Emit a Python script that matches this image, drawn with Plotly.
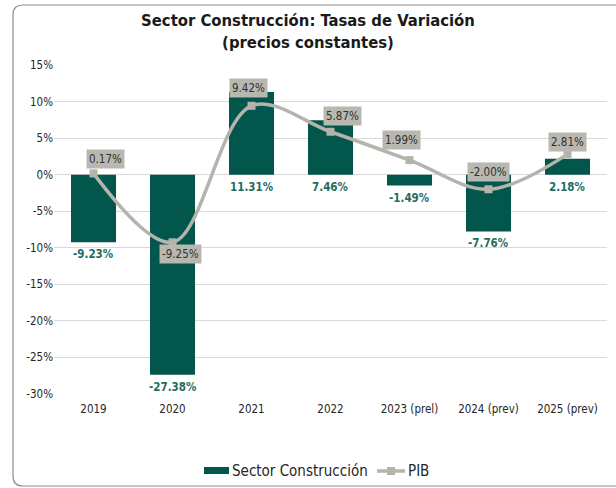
import plotly.graph_objects as go

categories = ["2019", "2020", "2021", "2022", "2023 (prel)", "2024 (prev)", "2025 (prev)"]
construccion = [-9.23, -27.38, 11.31, 7.46, -1.49, -7.76, 2.18]
pib = [0.17, -9.25, 9.42, 5.87, 1.99, -2.00, 2.81]
series_names = ["Sector Construcción", "PIB"]
y_ticks = [15, 10, 5, 0, -5, -10, -15, -20, -25, -30]
y_ticktext = [f"{t}%" for t in y_ticks]

# label offsets for PIB boxes (style only, in pixels)
pib_label_dx = [12, 8, -3, 12, -8, 0, 0]
pib_label_dy = [14, -12, 18, 16, 20, 17, 12]

BAR_COLOR = "#03564b"
LINE_COLOR = "#b4b4ac"
LABEL_TEAL = "#1f6d61"
FONT = "DejaVu Sans Condensed, Liberation Sans, Arial, sans-serif"

W, H = 553.0, 329.0  # plot area in px
def px(xp):
    return (xp - 54) / W
def py(yp):
    return 1 - (yp - 65) / H

xpos = list(range(len(categories)))

fig = go.Figure()
fig.add_trace(go.Bar(
    x=xpos, y=construccion, name=series_names[0], width=0.57,
    marker=dict(color=BAR_COLOR, line=dict(width=0)), showlegend=False,
    hoverinfo="skip",
))
fig.add_trace(go.Scatter(
    x=xpos, y=pib, name=series_names[1], mode="lines+markers",
    line=dict(color=LINE_COLOR, width=3.5, shape="spline", smoothing=1.0),
    marker=dict(symbol="square", size=8, color=LINE_COLOR), showlegend=False,
    hoverinfo="skip",
))

annotations = []
for i, v in zip(xpos, construccion):
    annotations.append(dict(
        x=i, y=(0 if v >= 0 else v), xref="x", yref="y",
        text=f"{v:.2f}%", showarrow=False, yanchor="top", yshift=-3,
        font=dict(family=FONT, size=11.5, color=LABEL_TEAL, weight="bold"),
    ))
for i, v, dx, dy in zip(xpos, pib, pib_label_dx, pib_label_dy):
    annotations.append(dict(
        x=i, y=v, xref="x", yref="y",
        text=f"{v:.2f}%", showarrow=False, xshift=dx, yshift=dy,
        bgcolor="#b8b8b0", borderpad=2,
        font=dict(family=FONT, size=11.5, color="#303030"),
    ))

# custom legend
annotations.append(dict(x=px(230), y=py(471), xref="paper", yref="paper", xanchor="left",
                        yanchor="middle", text=series_names[0], showarrow=False,
                        font=dict(family=FONT, size=15, color="#262626")))
annotations.append(dict(x=px(406), y=py(471), xref="paper", yref="paper", xanchor="left",
                        yanchor="middle", text=series_names[1], showarrow=False,
                        font=dict(family=FONT, size=15, color="#262626")))

# rounded border (paper coords)
x0, x1 = px(13), px(640)
y1, y0 = py(5), py(486)
rx, ry = 10 / W, 10 / H
path = (f"M {x0+rx},{y1} L {x1-rx},{y1} Q {x1},{y1} {x1},{y1-ry} L {x1},{y0+ry} "
        f"Q {x1},{y0} {x1-rx},{y0} L {x0+rx},{y0} Q {x0},{y0} {x0},{y0+ry} "
        f"L {x0},{y1-ry} Q {x0},{y1} {x0+rx},{y1} Z")

shapes = [
    dict(type="path", path=path, xref="paper", yref="paper",
         line=dict(color="#8c8c8c", width=1.2), layer="below"),
    dict(type="rect", xref="paper", yref="paper", x0=px(204), x1=px(229),
         y0=py(474), y1=py(467), fillcolor=BAR_COLOR, line=dict(width=0)),
    dict(type="line", xref="paper", yref="paper", x0=px(377), x1=px(405),
         y0=py(471), y1=py(471), line=dict(color=LINE_COLOR, width=3.5)),
    dict(type="rect", xref="paper", yref="paper", x0=px(387), x1=px(395),
         y0=py(475), y1=py(467), fillcolor=LINE_COLOR, line=dict(width=0)),
]

fig.update_layout(
    width=616, height=488,
    margin=dict(l=54, r=9, t=65, b=94),
    paper_bgcolor="white", plot_bgcolor="white",
    font=dict(family=FONT, size=11, color="#262626"),
    title=dict(
        text="<b>Sector Construcción: Tasas de Variación<br>(precios constantes)</b>",
        x=0.5, xanchor="center", y=0.946, yanchor="top",
        font=dict(family=FONT, size=16.5, color="#1a1a1a"),
    ),
    showlegend=False,
    annotations=annotations,
    shapes=shapes,
)
fig.update_xaxes(range=[-0.5, len(categories) - 0.5], tickmode="array", tickvals=xpos,
                 ticktext=categories, showgrid=False, ticks="", showline=False, zeroline=False,
                 ticklabelstandoff=6,
                 tickfont=dict(family=FONT, size=11.5, color="#262626"))
fig.update_yaxes(range=[-30, 15], tickmode="array", tickvals=y_ticks, ticktext=y_ticktext,
                 showgrid=True,
                 gridcolor="#d9d9d9", gridwidth=1, zeroline=True, zerolinecolor="#d9d9d9",
                 zerolinewidth=1, showline=False, ticks="",
                 tickfont=dict(family=FONT, size=11.5, color="#262626"))

fig.write_html("out.html", post_script="document.body.style.margin='0';",
               config={"displayModeBar": False})
